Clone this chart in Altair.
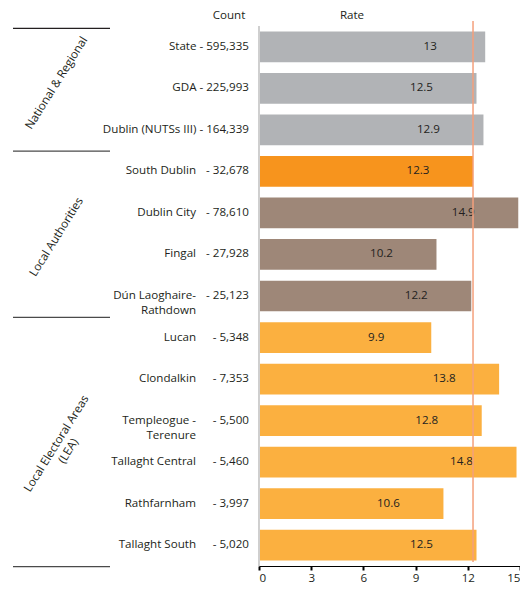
import altair as alt
import pandas as pd

# ---- data ----
rows = ["State", "GDA", "Dublin (NUTSs III)", "South Dublin", "Dublin City", "Fingal",
        "Dún Laoghaire-Rathdown", "Lucan", "Clondalkin", "Templeogue - Terenure",
        "Tallaght Central", "Rathfarnham", "Tallaght South"]
display_names = ["State", "GDA", "Dublin (NUTSs III)", "South Dublin", "Dublin City", "Fingal",
                 "Dún Laoghaire-\nRathdown", "Lucan", "Clondalkin", "Templeogue -\nTerenure",
                 "Tallaght Central", "Rathfarnham", "Tallaght South"]
counts = ["595,335", "225,993", "164,339", "32,678", "78,610", "27,928", "25,123",
          "5,348", "7,353", "5,500", "5,460", "3,997", "5,020"]
rates = [13, 12.5, 12.9, 12.3, 14.9, 10.2, 12.2, 9.9, 13.8, 12.8, 14.8, 10.6, 12.5]
kinds = ["National"] * 3 + ["South Dublin"] + ["Local Authority"] * 3 + ["LEA"] * 6
group_labels = ["National & Regional", "Local Authorities", "Local Electoral Areas\n(LEA)"]
group_last_rows = ["Dublin (NUTSs III)", "Dún Laoghaire-Rathdown", "Tallaght South"]
reference_rate = 12.3
x_ticks = [0, 3, 6, 9, 12, 15]

kind_domain = ["National", "South Dublin", "Local Authority", "LEA"]
kind_colors = ["#B1B3B6", "#F7941D", "#9E8778", "#FBB040"]

FONT = "Open Sans"
FS = 11.6
TXT = "#231F20"

name_col, count_col = [], []
for n, c, k in zip(display_names, counts, kinds):
    if k == "National":
        name_col.append("")
        count_col.append(f"{n} - {c}")
    else:
        name_col.append(n)
        count_col.append(f"- {c}")

df = pd.DataFrame({"row": rows, "name": name_col, "count": count_col,
                   "rate": rates, "kind": kinds,
                   "label": [f"{r:g}" for r in rates]})

W, H = 261, 540
TOP = 18
band = alt.Scale(paddingInner=0.26, paddingOuter=0.13)

y_enc = alt.Y("row:N", sort=rows, axis=None, scale=band)
x_scale = alt.Scale(domain=[0, 15], nice=False)

base = alt.Chart(df)

bars = base.mark_bar().encode(
    x=alt.X("rate:Q", scale=x_scale,
            axis=alt.Axis(values=x_ticks, title=None, grid=False, domainColor="#000000",
                          tickColor="#000000", tickWidth=2, tickSize=4, labelFontSize=FS,
                          labelFont=FONT, labelColor=TXT, labelPadding=2)),
    y=y_enc,
    color=alt.Color("kind:N", scale=alt.Scale(domain=kind_domain, range=kind_colors), legend=None),
)

left_line = base.mark_rule(color="#cfcfcf", strokeWidth=1).encode(
    x=alt.datum(0), y=alt.value(0), y2=alt.value(H))

values = base.mark_text(font=FONT, fontSize=FS, color=TXT, align="center", dx=-55).encode(
    x=alt.X("rate:Q", scale=x_scale), y=y_enc, text="label:N")

names = base.mark_text(font=FONT, fontSize=FS, color=TXT, align="right",
                       lineBreak="\n", lineHeight=15).encode(
    x=alt.value(-63), y=y_enc, text="name:N")

cnts = base.mark_text(font=FONT, fontSize=FS, color=TXT, align="right").encode(
    x=alt.value(-10), y=y_enc, text="count:N")

ref = alt.Chart(pd.DataFrame({"r": [reference_rate]})).mark_rule(
    color="#F4A07C", strokeWidth=1.5).encode(
    x=alt.X("r:Q", scale=x_scale), y=alt.value(-5), y2=alt.value(H - 4))

# separator lines
top_sep = alt.Chart(pd.DataFrame({"row": [rows[0]]})).mark_rule(
    color=TXT, strokeWidth=1.2, yOffset=-3).encode(
    y=alt.Y("row:N", sort=rows, axis=None, bandPosition=0, scale=band),
    x=alt.value(-246), x2=alt.value(-149))
grp_sep = alt.Chart(pd.DataFrame({"row": group_last_rows})).mark_rule(
    color="#4a4a4a", strokeWidth=1.2, yOffset=6).encode(
    y=alt.Y("row:N", sort=rows, axis=None, bandPosition=1, scale=band),
    x=alt.value(-246), x2=alt.value(-149))

# group labels (rotated)
grp_layers = []
anchors = [("GDA", 0.5, -5), ("Dublin City", 1, 9), ("Templeogue - Terenure", 1, 8)]
for lab, (anchor, bp, dy) in zip(group_labels, anchors):
    grp_layers.append(
        alt.Chart(pd.DataFrame({"row": [anchor], "g": [lab]})).mark_text(
            font=FONT, fontSize=FS, color=TXT, angle=302, align="center",
            baseline="middle", lineBreak="\n", lineHeight=14, yOffset=dy).encode(
            y=alt.Y("row:N", sort=rows, axis=None, bandPosition=bp, scale=band),
            x=alt.value(-202), text="g:N"))

headers = alt.Chart(pd.DataFrame({"h": ["Count", "Rate"], "px": [-30, 93]})).mark_text(
    font=FONT, fontSize=FS, color=TXT, align="center").encode(
    x=alt.X("px:Q", scale=None), y=alt.value(-10), text="h:N")

chart = alt.layer(bars, left_line, values, names, cnts, ref, top_sep, grp_sep,
                  *grp_layers, headers).properties(
    width=W, height=H,
    autosize=alt.AutoSizeParams(type="none"),
    padding={"left": 251, "top": TOP, "right": 0, "bottom": 578 - TOP - H},
).configure_view(stroke=None)

chart.save("out.html", embed_options={"renderer": "svg", "actions": False})
